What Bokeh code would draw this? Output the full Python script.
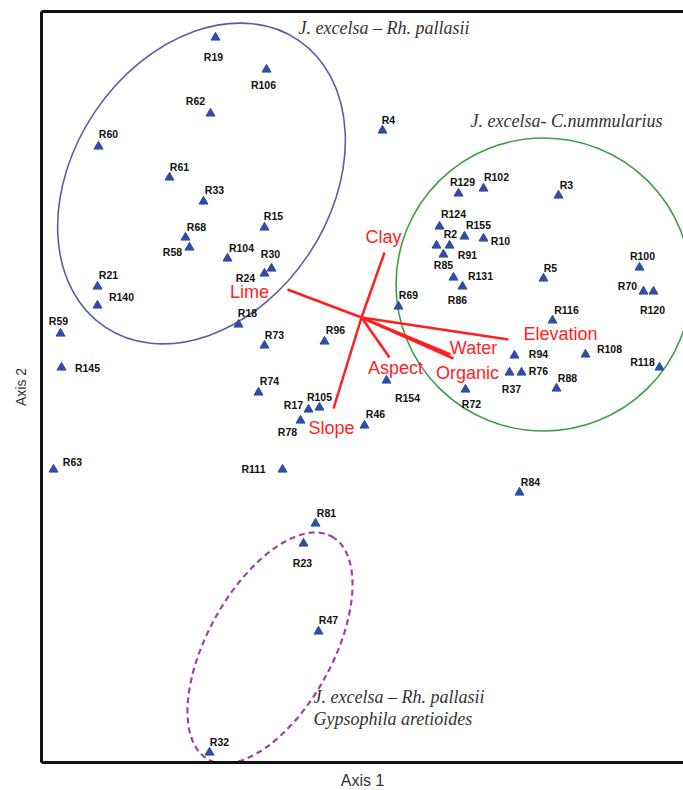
from bokeh.plotting import figure
from bokeh.models import (ColumnDataSource, LinearAxis, FixedTicker, Range1d, Label)
from bokeh.core.properties import value
from bokeh.embed import file_html
from bokeh.resources import INLINE

# ---------------- data (ordination scores) ----------------
releves = ["R19", "R106", "R62", "R60", "R61", "R33", "R68", "R58", "R104", "R15",
           "R30", "R24", "R21", "R140", "R59", "R145", "R18", "R73", "R96", "R74",
           "R105", "R17", "R78", "R63", "R111", "R81", "R23", "R47", "R32", "R4",
           "R129", "R102", "R3", "R124", "R155", "R10", "R2", "R85", "R91", "R131",
           "R86", "R5", "R100", "R70", "R120", "R69", "R116", "R94", "R108", "R118",
           "R76", "R37", "R88", "R72", "R154", "R46", "R84"]
axis1 = [-1.46, -0.95, -1.51, -2.63, -1.92, -1.58, -1.76, -1.72, -1.34, -0.97,
         -0.90, -0.97, -2.64, -2.64, -3.01, -3.00, -1.23, -0.97, -0.37, -1.03,
         -0.42, -0.53, -0.61, -3.08, -0.79, -0.46, -0.58, -0.43, -1.52, 0.21,
         0.97, 1.22, 1.97, 0.78, 1.03, 1.22, 0.88, 0.75, 0.82, 0.92,
         1.01, 1.82, 2.78, 2.82, 2.92, 0.37, 1.91, 1.53, 2.24, 2.98,
         1.60, 1.48, 1.95, 1.04, 0.25, 0.03, 1.58]
axis2 = [2.80, 2.48, 2.04, 1.71, 1.40, 1.16, 0.80, 0.70, 0.59, 0.90,
         0.49, 0.44, 0.31, 0.12, -0.16, -0.50, -0.07, -0.28, -0.24, -0.75,
         -0.90, -0.92, -1.03, -1.52, -1.52, -2.06, -2.26, -3.14, -4.35, 1.87,
         1.24, 1.29, 1.22, 0.91, 0.81, 0.79, 0.72, 0.72, 0.63, 0.40,
         0.31, 0.39, 0.50, 0.26, 0.26, 0.11, -0.03, -0.38, -0.37, -0.50,
         -0.55, -0.55, -0.71, -0.72, -0.63, -1.08, -1.75]

variables = ["Clay", "Lime", "Slope", "Aspect", "Elevation", "Water", "Organic"]
var_axis1 = [0.23, -0.74, -0.28, 0.28, 1.47, 0.89, 0.92]
var_axis2 = [0.65, 0.28, -0.91, -0.40, -0.22, -0.37, -0.41]

groups = ["J. excelsa \u2013 Rh. pallasii", "J. excelsa- C.nummularius",
          "J. excelsa \u2013 Rh. pallasii\nGypsophila aretioides"]
group_cx = [-1.60, 1.82, -0.915]
group_cy = [1.34, 0.33, -3.305]
group_w = [3.46, 2.95, 2.55]
group_h = [2.57, 2.93, 1.25]
group_angle_deg = [56, 0, 61]
group_label_x = [-0.63, 1.09, -0.48]
group_label_y = [2.90, 1.97, -3.90]

# ---------------- layout (label placement in screen pixels) ----------------
lab_dx = [-2, -3, -15, 10, 10, 11, 11, -17, 14, 9,
          -1, -19, 11, 24, -2, 26, 9, 10, 11, 11,
          0, -15, -13, 19, -29, 11, -1, 10, 10, 6,
          4, 13, 8, 14, 14, 17, 1, 7, 24, 27,
          -5, 7, 3, -16, -1, 10, 14, 24, 24, -17,
          17, 2, 11, 6, 21, 11, 11]
lab_dy = [19, 15, -13, -13, -11, -12, -11, 4, -11, -12,
          -15, 4, -12, -9, -13, 0, -12, -11, -12, -12,
          -11, -5, 11, -8, -1, -11, 19, -12, -11, -11,
          -12, -12, -11, -13, -12, 2, -12, 19, 0, -2,
          13, -11, -12, -6, 18, -12, -11, -2, -6, -6,
          -2, 16, -11, 14, 17, -12, -11]
var_dx = [-1, -38, -2, 6, 52, 23, 14]
var_dy = [-16, 2, 19, 10, -6, -7, 14]

BLUE = "#2f4ea3"
RED = "#ff1f1f"
ELL_COLORS = ["#5a5ca8", "#3f9f45", "#9a46a0"]
ELL_DASH = ["solid", "solid", "6 4"]

p = figure(frame_width=642, frame_height=751,
           x_range=Range1d(-3.20, 3.22), y_range=Range1d(-4.45, 3.06),
           x_axis_type=None, y_axis_type=None,
           output_backend="svg", toolbar_location=None,
           min_border_left=41, min_border_right=0, min_border_top=11, min_border_bottom=28)
p.outline_line_color = None
p.background_fill_color = "white"
p.border_fill_color = "white"


def bare_axis(label, size, standoff):
    return LinearAxis(ticker=FixedTicker(ticks=[]), axis_label=label,
                      axis_line_width=3, axis_line_color="#111111",
                      major_tick_in=0, major_tick_out=0, minor_tick_in=0, minor_tick_out=0,
                      major_label_text_font_size="0px",
                      axis_label_text_font="Liberation Sans",
                      axis_label_text_font_size=size, axis_label_text_font_style="normal",
                      axis_label_text_color="#333333", axis_label_standoff=standoff)


p.add_layout(bare_axis("Axis 1", "16px", 9), "below")
p.add_layout(bare_axis("Axis 2", "14px", 13), "left")
p.add_layout(bare_axis(None, "1px", 0), "above")

# group ellipses
for cx, cy, w, h, ang, col, dash in zip(group_cx, group_cy, group_w, group_h,
                                         group_angle_deg, ELL_COLORS, ELL_DASH):
    p.ellipse(x=cx, y=cy, width=w, height=h, angle=ang, angle_units="deg",
              fill_color=None, line_color=col, line_width=1.6 if dash == "solid" else 2.2,
              line_dash=dash)

# group names
for name, tx, ty in zip(groups, group_label_x, group_label_y):
    p.add_layout(Label(x=tx, y=ty, text=name, text_font="Liberation Serif",
                       text_font_style="italic", text_font_size="18px",
                       text_color="#333333", text_baseline="middle",
                       text_line_height=1.1))

# environmental vectors
vsrc = ColumnDataSource(dict(x0=[0.0] * len(variables), y0=[0.0] * len(variables),
                             x1=var_axis1, y1=var_axis2, name=variables,
                             dx=var_dx, dy=var_dy))
p.segment(x0="x0", y0="y0", x1="x1", y1="y1", source=vsrc,
          line_color=RED, line_width=2.5)
p.text(x="x1", y="y1", text="name", x_offset="dx", y_offset="dy", source=vsrc,
       text_color=RED, text_font=value("Liberation Sans"), text_font_size="18px",
       text_align="center", text_baseline="middle")

# releves
src = ColumnDataSource(dict(x=axis1, y=axis2, name=releves, dx=lab_dx, dy=lab_dy))
p.scatter(x="x", y="y", source=src, marker="triangle", size=9,
          fill_color=BLUE, line_color=BLUE)
p.text(x="x", y="y", text="name", x_offset="dx", y_offset="dy", source=src,
       text_color="#111111", text_font=value("Liberation Sans"), text_font_style="bold",
       text_font_size="10.5px", text_align="center", text_baseline="middle")

open("out.html", "w").write(file_html(p, INLINE))
